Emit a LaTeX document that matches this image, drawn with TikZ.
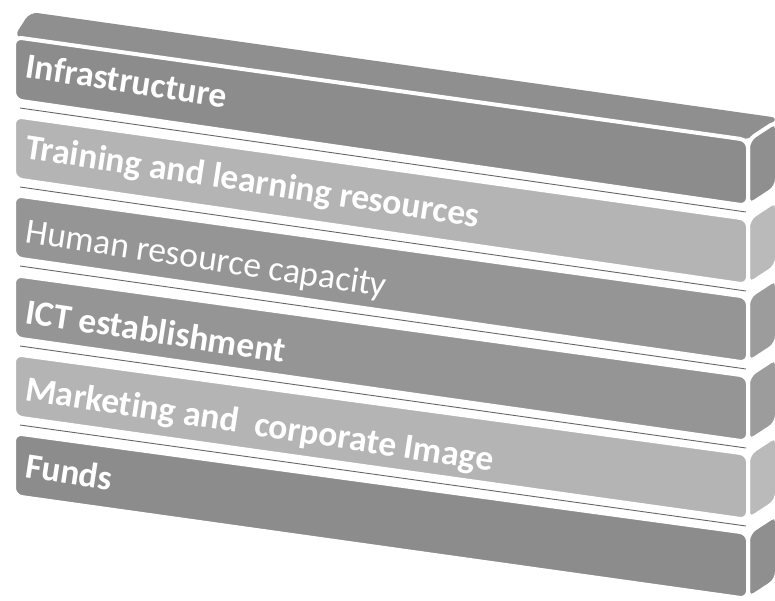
\documentclass[tikz,border=0pt]{standalone}
\usepackage{fontspec}
\setmainfont[Ligatures=NoCommon]{Carlito}
\definecolor{bardark}{HTML}{8C8C8C}
\definecolor{barmid}{HTML}{959595}
\definecolor{barlight}{HTML}{B4B4B4}
\definecolor{sidedark}{HTML}{8F8F8F}
\definecolor{sidemid}{HTML}{9C9C9C}
\definecolor{sidelight}{HTML}{BABABA}
\begin{document}
\begin{tikzpicture}[x=1pt,y=-1pt,
    face/.style={draw=white,line width=4pt,rounded corners=8pt},
    gapline/.style={draw=black!60,line width=0.9pt},
    barlabel/.style={text=white,anchor=base west,inner sep=0pt,rotate=-8.7,
      font=\fontsize{35.5}{35.5}\selectfont\bfseries}]
  \useasboundingbox (0,0) rectangle (775,601);
  \clip (0,0) rectangle (775,601);

  % BAR 1
  % top face
  \fill[sidedark,rounded corners=8pt] (14,37) -- (30,12) -- (779,118) -- (748,140) -- cycle;
  \filldraw[face,fill=sidedark] (748,140) -- (777,121) -- (777,187) -- (748,206) -- cycle;
  \filldraw[face,fill=bardark] (14,37) -- (748,140) -- (748,206) -- (14,100) -- cycle;
  \node[barlabel] (infra) at (24,77) {Infrastructure};
  \draw[gapline] (20,108) -- (746,212);

  % BAR 2
  \filldraw[face,fill=sidelight] (748,219) -- (777,200) -- (777,266) -- (748,285) -- cycle;
  \filldraw[face,fill=barlight] (14,116) -- (748,219) -- (748,285) -- (14,179) -- cycle;
  \node[barlabel] (training) at (24,158) {Training and learning resources};
  \draw[gapline] (20,187) -- (746,291);

  % BAR 3
  \filldraw[face,fill=sidemid] (748,297) -- (777,278) -- (777,344) -- (748,363) -- cycle;
  \filldraw[face,fill=barmid] (14,195) -- (748,297) -- (748,363) -- (14,258) -- cycle;
  \node[barlabel,font=\fontsize{35.5}{35.5}\selectfont] (human) at (24,242) {Human resource capacity};
  \draw[gapline] (20,266) -- (746,369);

  % BAR 4
  \filldraw[face,fill=sidemid] (748,376) -- (777,357) -- (777,423) -- (748,442) -- cycle;
  \filldraw[face,fill=barmid] (14,275) -- (748,376) -- (748,442) -- (14,338) -- cycle;
  \node[barlabel] (ict) at (24,323) {ICT establishment};
  \draw[gapline] (20,346) -- (746,448);

  % BAR 5
  \filldraw[face,fill=sidelight] (748,454) -- (777,435) -- (777,501) -- (748,520) -- cycle;
  \filldraw[face,fill=barlight] (14,354) -- (748,454) -- (748,520) -- (14,417) -- cycle;
  \node[barlabel] (marketing) at (24,400) {Marketing and\ \ corporate Image};
  \draw[gapline] (20,425) -- (746,526);

  % BAR 6
  \filldraw[face,fill=sidedark] (748,533) -- (777,514) -- (777,580) -- (748,599) -- cycle;
  \filldraw[face,fill=bardark] (14,433) -- (748,533) -- (748,599) -- (14,496) -- cycle;
  \node[barlabel] (funds) at (24,477) {Funds};
\end{tikzpicture}
\end{document}
